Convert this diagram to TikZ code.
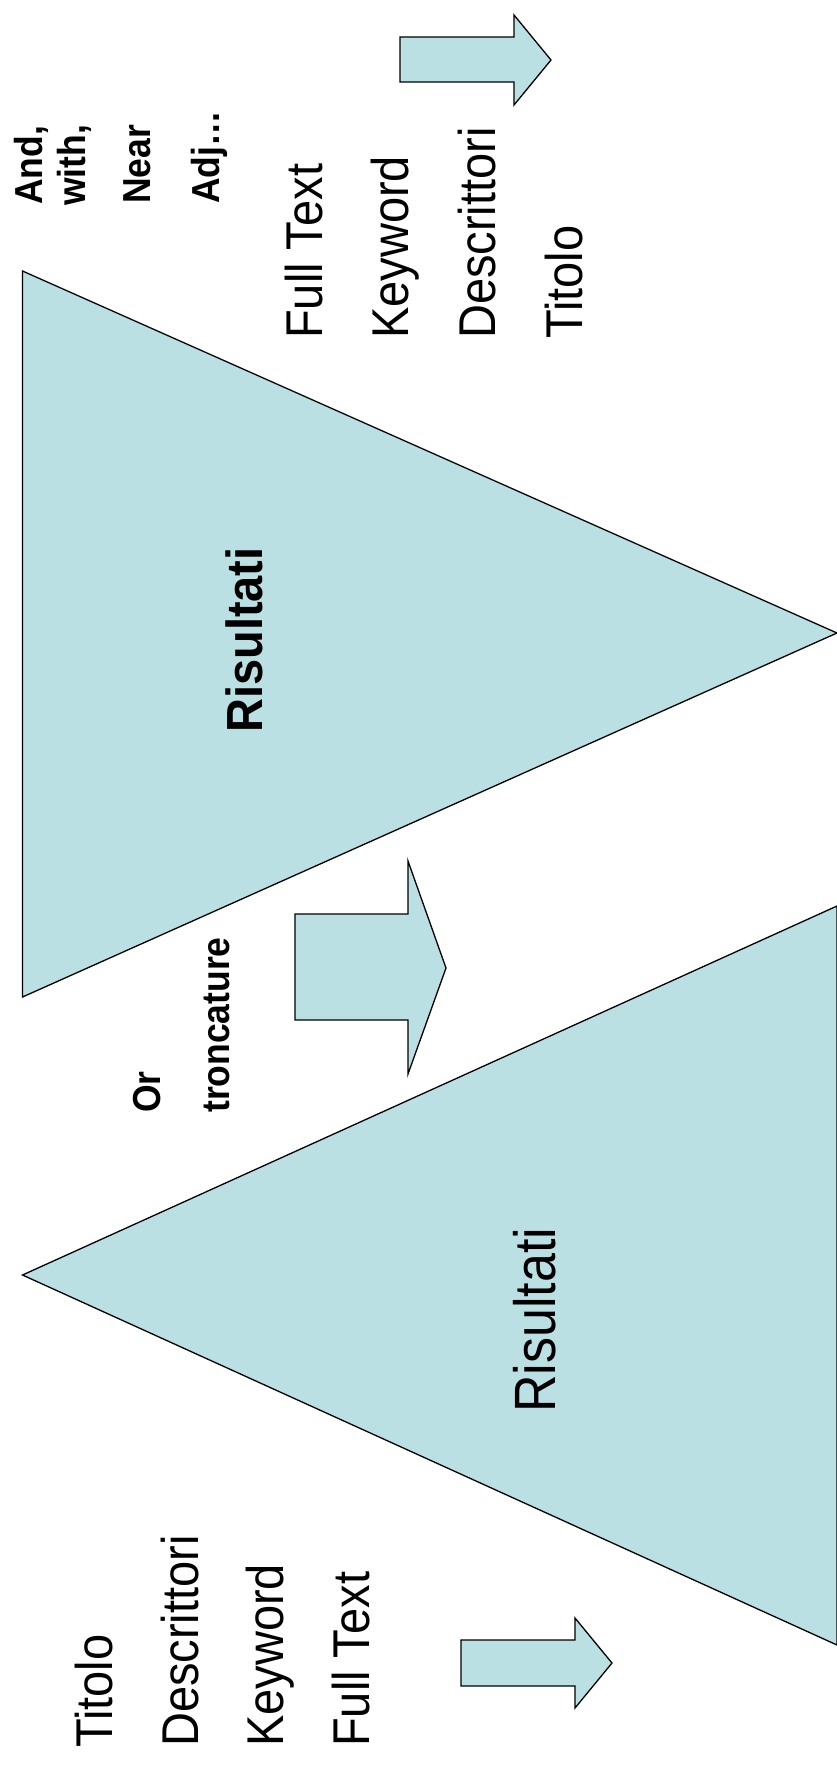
\documentclass[tikz,border=0pt]{standalone}
\usepackage{fontspec}
\setmainfont{Liberation Sans}
\definecolor{fillblue}{RGB}{187,224,227}
\newcommand{\tallbox}[2]{\scalebox{1}[#1]{#2}}
\tikzset{
  shapefill/.style={fill=fillblue, draw=black, line width=1.3pt, line join=miter},
  bigtxt/.style={rotate=90, anchor=base west, inner sep=0pt, font=\fontsize{47}{50}\selectfont},
  boldtxt/.style={rotate=90, anchor=base west, inner sep=0pt, font=\fontsize{35.5}{40}\selectfont\bfseries},
}
\begin{document}
\begin{tikzpicture}[x=1pt,y=-1pt]
\useasboundingbox (0,0) rectangle (837,1765);
% triangles
\draw[shapefill] (22.5,271) -- (837,633) -- (22.5,997) -- cycle;
\draw[shapefill] (22.5,1275) -- (837,906) -- (837,1645) -- cycle;
% arrows
\draw[shapefill] (400,37) -- (514,37) -- (514,15) -- (551,60) -- (514,105) -- (514,82) -- (400,82) -- cycle;
\draw[shapefill] (295,914) -- (408,914) -- (408,861) -- (446,968) -- (408,1074) -- (408,1020) -- (295,1020) -- cycle;
\draw[shapefill] (461,1640) -- (575,1640) -- (575,1618) -- (612,1663) -- (575,1708) -- (575,1686) -- (461,1686) -- cycle;
% top-right texts
\node[boldtxt] (and) at (42,205) {\tallbox{1.1}{And,}};
\node[boldtxt] (with) at (85,206) {\tallbox{1.1}{with,}};
\node[boldtxt] (near) at (150,204) {\tallbox{1.1}{Near}};
\node[boldtxt] (adj) at (219,204) {\tallbox{1.1}{Adj…}};
\node[bigtxt] (ft1) at (322,339) {\tallbox{1.1}{Full Text}};
\node[bigtxt] (kw1) at (408,339) {\tallbox{1.1}{Keyword}};
\node[bigtxt] (de1) at (495,339) {\tallbox{1.1}{Descrittori}};
\node[bigtxt] (ti1) at (582,339) {\tallbox{1.1}{Titolo}};
% triangle labels
\node[rotate=90, anchor=base west, inner sep=0pt, font=\fontsize{47}{50}\selectfont\bfseries] (ris1) at (262,733) {\tallbox{1.08}{Risultati}};
\node[rotate=90, anchor=base west, inner sep=0pt, font=\fontsize{52}{55}\selectfont] (ris2) at (555,1413) {\tallbox{1.12}{Risultati}};
% middle texts
\node[boldtxt] (or) at (160,1113) {\tallbox{1.1}{Or}};
\node[boldtxt] (tronc) at (229,1113) {\tallbox{1.1}{troncature}};
% lower-left texts
\node[bigtxt] (ti2) at (112,1748) {\tallbox{1.1}{Titolo}};
\node[bigtxt] (de2) at (198,1747) {\tallbox{1.1}{Descrittori}};
\node[bigtxt] (kw2) at (283,1747) {\tallbox{1.1}{Keyword}};
\node[bigtxt] (ft2) at (369,1747) {\tallbox{1.1}{Full Text}};
\end{tikzpicture}
\end{document}
